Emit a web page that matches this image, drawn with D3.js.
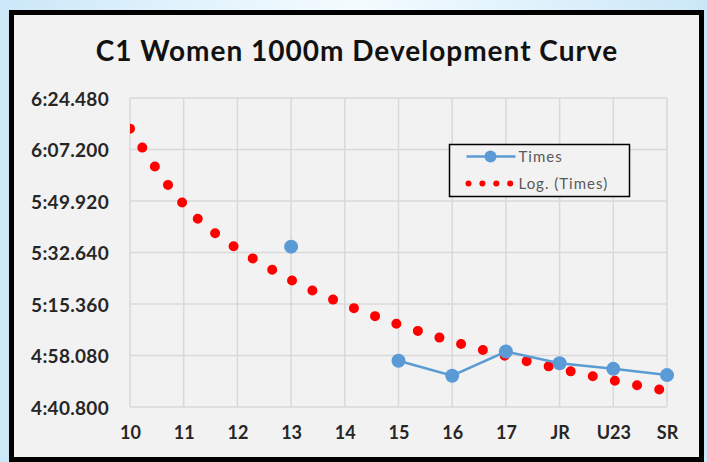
<!DOCTYPE html>
<html>
<head>
<meta charset="utf-8">
<script src="https://cdn.jsdelivr.net/npm/d3@7"></script>
<style>
  html, body { margin: 0; padding: 0; }
  body {
    width: 707px; height: 462px; overflow: hidden;
    background: linear-gradient(90deg, #cbe7f8 0%, #e0f2fc 25%, #f4fbfe 50%, #e0f2fc 75%, #cbe7f7 100%);
  }
</style>
</head>
<body>
<div id="chart"></div>
<script>
// categories on the x axis
var categories = ["10", "11", "12", "13", "14", "15", "16", "17", "JR", "U23", "SR"];
// race times in seconds (null = no race)
var times = [null, null, null, 334.6, null, 296.3, 291.3, 299.4, 295.5, 293.6, 291.5];
// logarithmic trend values read at each category, seconds
var trend = [374.2, 348.8, 333.9, 323.4, 315.2, 308.5, 302.8, 297.9, 293.6, 289.7, 286.2];
// y tick values, seconds
var yTicks = [280.8, 298.08, 315.36, 332.64, 349.92, 367.2, 384.48];

var svgWidth = 707, svgHeight = 462;
var margin = {top: 98, right: 40, bottom: 55, left: 130},
    width = 667 - margin.left,
    height = 407 - margin.top;

var font = "Lato, 'Open Sans', sans-serif";

var svg = d3.select("#chart")
  .append("svg")
    .attr("width", svgWidth)
    .attr("height", svgHeight);

// chart frame
svg.append("rect")
  .attr("x", 11.5).attr("y", 12.5)
  .attr("width", 690).attr("height", 447)
  .attr("fill", "#f2f2f2")
  .attr("stroke", "#000")
  .attr("stroke-width", 5);

// title
svg.append("text")
  .attr("x", 357).attr("y", 61)
  .attr("text-anchor", "middle")
  .style("font-family", font)
  .style("font-size", "28px")
  .style("font-weight", "bold")
  .style("letter-spacing", "1px")
  .attr("fill", "#111")
  .text("C1 Women 1000m Development Curve");

var g = svg.append("g")
  .attr("transform", "translate(" + margin.left + "," + margin.top + ")");

var x = d3.scalePoint()
  .domain(categories)
  .range([0, width]);

var y = d3.scaleLinear()
  .domain([280.8, 384.48])
  .range([height, 0]);

function fmt(s) {
  var m = Math.floor(s / 60);
  var sec = s - m * 60;
  var str = sec.toFixed(3);
  if (sec < 10) str = "0" + str;
  return m + ":" + str;
}

// grid
g.append("g")
  .selectAll("line")
  .data(yTicks)
  .join("line")
    .attr("x1", 0).attr("x2", width)
    .attr("y1", d => y(d)).attr("y2", d => y(d))
    .attr("stroke", "#d9d9d9").attr("stroke-width", 1.5);

g.append("g")
  .selectAll("line")
  .data(categories)
  .join("line")
    .attr("x1", d => x(d)).attr("x2", d => x(d))
    .attr("y1", 0).attr("y2", height)
    .attr("stroke", "#d9d9d9").attr("stroke-width", 1.5);

// y axis labels
var yAxis = g.append("g")
  .attr("transform", "translate(-18,1)")
  .call(d3.axisLeft(y).tickValues(yTicks).tickFormat(fmt).tickSize(0));
yAxis.select(".domain").remove();
yAxis.selectAll("text")
  .style("font-family", font)
  .style("font-size", "19px")
  .style("font-weight", "bold")
  .style("letter-spacing", "0.3px")
  .attr("fill", "#262626");

// x axis labels
var xAxis = g.append("g")
  .attr("transform", "translate(0," + (height + 16) + ")")
  .call(d3.axisBottom(x).tickSize(0));
xAxis.select(".domain").remove();
xAxis.selectAll("text")
  .style("font-family", font)
  .style("font-size", "18px")
  .style("font-weight", "bold")
  .attr("fill", "#262626");

// clip for the trend line
svg.append("clipPath").attr("id", "plotclip")
  .append("rect")
  .attr("x", 0).attr("y", -10).attr("width", width + 10).attr("height", height + 20);

// log trend (dotted)
var trendLine = d3.line()
  .x((d, i) => x(categories[i]))
  .y(d => y(d))
  .curve(d3.curveNatural);

g.append("path")
  .datum(trend)
  .attr("clip-path", "url(#plotclip)")
  .attr("d", trendLine)
  .attr("fill", "none")
  .attr("stroke", "#ff0000")
  .attr("stroke-width", 10)
  .attr("stroke-linecap", "round")
  .attr("stroke-dasharray", "0 22.6");

// times line
var timesLine = d3.line()
  .defined(d => d != null)
  .x((d, i) => x(categories[i]))
  .y(d => y(d));

g.append("path")
  .datum(times)
  .attr("d", timesLine)
  .attr("fill", "none")
  .attr("stroke", "#5b9bd5")
  .attr("stroke-width", 2.5);

g.append("g")
  .selectAll("circle")
  .data(times.map((d, i) => ({cat: categories[i], v: d})).filter(d => d.v != null))
  .join("circle")
    .attr("cx", d => x(d.cat))
    .attr("cy", d => y(d.v))
    .attr("r", 7)
    .attr("fill", "#5b9bd5");

// legend
var legend = svg.append("g").attr("transform", "translate(449.5,144.5)");
legend.append("rect")
  .attr("width", 180).attr("height", 52)
  .attr("fill", "#f2f2f2")
  .attr("stroke", "#000").attr("stroke-width", 1.5);
legend.append("line")
  .attr("x1", 17).attr("x2", 66).attr("y1", 12).attr("y2", 12)
  .attr("stroke", "#5b9bd5").attr("stroke-width", 2.5);
legend.append("circle")
  .attr("cx", 41).attr("cy", 12).attr("r", 6)
  .attr("fill", "#5b9bd5");
legend.selectAll(".ldot")
  .data([0, 1, 2, 3])
  .join("circle")
    .attr("class", "ldot")
    .attr("cx", d => 19 + d * 13.9)
    .attr("cy", 39)
    .attr("r", 3)
    .attr("fill", "#ff0000");
legend.append("text")
  .attr("x", 69).attr("y", 17)
  .style("font-family", font)
  .style("font-size", "15px")
  .style("letter-spacing", "1px")
  .attr("fill", "#595959")
  .text("Times");
legend.append("text")
  .attr("x", 69).attr("y", 44)
  .style("font-family", font)
  .style("font-size", "15px")
  .style("letter-spacing", "1px")
  .attr("fill", "#595959")
  .text("Log. (Times)");
</script>
</body>
</html>
